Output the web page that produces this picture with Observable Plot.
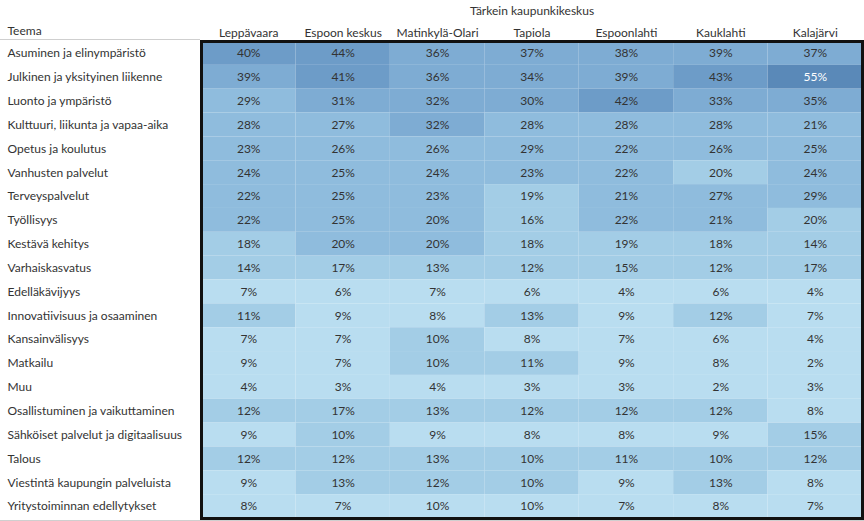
<!DOCTYPE html>
<html>
<head>
<meta charset="utf-8">
<script src="https://cdn.jsdelivr.net/npm/d3@7"></script>
<script src="https://cdn.jsdelivr.net/npm/@observablehq/plot@0.6"></script>
<style>
  html, body { margin: 0; padding: 0; background: #fff; }
  #chart svg { display: block; }
</style>
</head>
<body>
<div id="chart"></div>
<script>
const themes = [
  "Asuminen ja elinympäristö",
  "Julkinen ja yksityinen liikenne",
  "Luonto ja ympäristö",
  "Kulttuuri, liikunta ja vapaa-aika",
  "Opetus ja koulutus",
  "Vanhusten palvelut",
  "Terveyspalvelut",
  "Työllisyys",
  "Kestävä kehitys",
  "Varhaiskasvatus",
  "Edelläkävijyys",
  "Innovatiivisuus ja osaaminen",
  "Kansainvälisyys",
  "Matkailu",
  "Muu",
  "Osallistuminen ja vaikuttaminen",
  "Sähköiset palvelut ja digitaalisuus",
  "Talous",
  "Viestintä kaupungin palveluista",
  "Yritystoiminnan edellytykset"
];
const centres = ["Leppävaara", "Espoon keskus", "Matinkylä-Olari", "Tapiola", "Espoonlahti", "Kauklahti", "Kalajärvi"];

// Percentages per centre, in the order of `themes`
const leppavaara    = [40, 39, 29, 28, 23, 24, 22, 22, 18, 14, 7, 11, 7, 9, 4, 12, 9, 12, 9, 8];
const espoonKeskus  = [44, 41, 31, 27, 26, 25, 25, 25, 20, 17, 6, 9, 7, 7, 3, 17, 10, 12, 13, 7];
const matinkyla     = [36, 36, 32, 32, 26, 24, 23, 20, 20, 13, 7, 8, 10, 10, 4, 13, 9, 13, 12, 9.6];
const tapiola       = [37, 34, 30, 28, 29, 23, 19, 16, 18, 12, 6, 13, 8, 11, 3, 12, 8, 10, 10, 9.7];
const espoonlahti   = [38, 39, 42, 28, 22, 22, 21, 22, 19, 15, 4, 9, 7, 9, 3, 12, 8, 11, 9, 7];
const kauklahti     = [39, 43, 33, 28, 26, 19.7, 27, 21, 18, 12, 6, 12, 6, 8, 2, 12, 9, 10, 13, 8];
const kalajarvi     = [37, 55, 35, 21, 25, 24, 29, 19.6, 14, 17, 4, 7, 4, 2, 3, 8, 15, 12, 8, 7];
const series = [leppavaara, espoonKeskus, matinkyla, tapiola, espoonlahti, kauklahti, kalajarvi];

const binEdges = [10, 20, 30, 40, 50];
const binColors = ["#b9ddf0", "#a3cde6", "#8fbcdd", "#7eacd3", "#6d9cc8", "#5a89b8"];

const table = themes.flatMap((t, i) => centres.map((c, j) => ({teema: t, keskus: c, value: series[j][i]})));

const chart = Plot.plot({
  width: 864,
  height: 521,
  marginLeft: 201,
  marginTop: 41,
  marginRight: 2,
  marginBottom: 3,
  style: {fontFamily: "Lato, 'Open Sans', sans-serif", fontSize: "12px", color: "#333", background: "#fff"},
  x: {domain: centres, padding: 0, round: false, axis: null},
  y: {domain: themes, padding: 0, round: false, axis: null},
  color: {type: "threshold", domain: binEdges, range: binColors},
  marks: [
    Plot.cell(table, {x: "keskus", y: "teema", fill: "value"}),
    Plot.text(table.filter(d => d.value < 50), {x: "keskus", y: "teema", text: d => Math.round(d.value) + "%", fill: "#333"}),
    Plot.text(table.filter(d => d.value >= 50), {x: "keskus", y: "teema", text: d => Math.round(d.value) + "%", fill: "#fff"}),
    Plot.axisX({anchor: "top", tickSize: 0, tickPadding: 5, label: null, fill: "#333"}),
    Plot.axisY({anchor: "left", tickSize: 0, tickPadding: 0, textAnchor: "start", dx: -194, label: null, fill: "#333"}),
    Plot.text(["Teema"], {frameAnchor: "top-left", lineAnchor: "middle", dx: -194, dy: -10, textAnchor: "start", fill: "#333"}),
    Plot.text(["Tärkein kaupunkikeskus"], {frameAnchor: "top", lineAnchor: "middle", dy: -30, fill: "#333"}),
    Plot.frame({stroke: "#111", strokeWidth: 3})
  ]
});

const svg = d3.select(chart);
svg.append("line").attr("x1", 0).attr("x2", 200).attr("y1", 39.5).attr("y2", 39.5).attr("stroke", "#cfcfcf");
svg.append("line").attr("x1", 0).attr("x2", 864).attr("y1", 520.5).attr("y2", 520.5).attr("stroke", "#cfcfcf");
document.getElementById("chart").appendChild(chart);
</script>
</body>
</html>
